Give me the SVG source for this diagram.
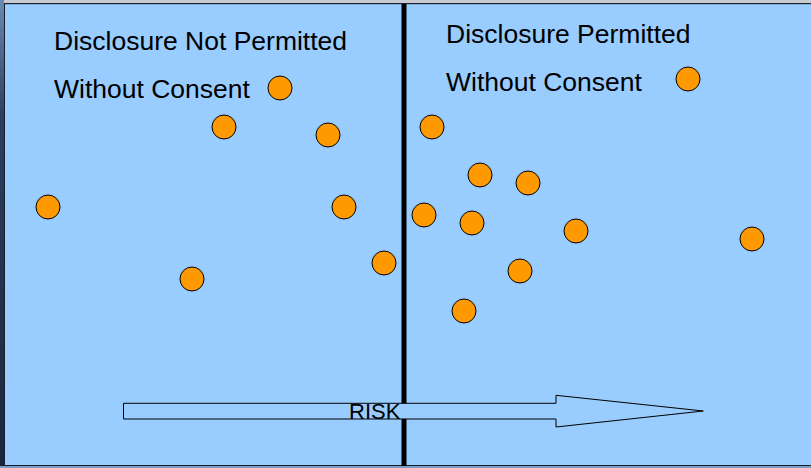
<svg xmlns="http://www.w3.org/2000/svg" width="811" height="468" viewBox="0 0 811 468">
<defs>
<linearGradient id="leftStrip" x1="0" y1="0" x2="0" y2="1">
<stop offset="0" stop-color="#6a8ab2"/>
<stop offset="0.25" stop-color="#2c3d5e"/>
<stop offset="1" stop-color="#1a2540"/>
</linearGradient>
</defs>
<style>
.dot{fill:#FF9900;stroke:#000;stroke-width:1}
.lbl{font-family:"Liberation Sans",Arial,sans-serif;font-size:26.5px;fill:#000}
.risk{font-family:"Liberation Sans",Arial,sans-serif;font-size:22px;fill:#000}
</style>
<rect x="0" y="0" width="811" height="468" fill="#99CCFF"/>
<rect x="0" y="0" width="811" height="3" fill="#c8ccd2"/>
<rect x="0" y="3" width="811" height="1.2" fill="#1a2030"/>
<rect x="0" y="0" width="4" height="468" fill="url(#leftStrip)"/>
<rect x="4" y="3" width="1" height="463" fill="#1a2030"/>
<rect x="0" y="465" width="811" height="1.2" fill="#1a2030"/>
<rect x="0" y="466" width="811" height="2" fill="#7c9ec4"/>
<rect id="divider" x="401.5" y="4" width="5" height="462" fill="#000"/>
<g id="label-left">
<text class="lbl" x="54" y="50">Disclosure Not Permitted</text>
<text class="lbl" x="54" y="97.7">Without Consent</text>
</g>
<g id="label-right">
<text class="lbl" x="446" y="42.7">Disclosure Permitted</text>
<text class="lbl" x="446" y="90.7">Without Consent</text>
</g>
<g id="dots-left">
<circle id="d1" class="dot" cx="280" cy="88" r="12"/>
<circle id="d2" class="dot" cx="224" cy="127" r="12"/>
<circle id="d3" class="dot" cx="328" cy="135" r="12"/>
<circle id="d4" class="dot" cx="48" cy="207" r="12"/>
<circle id="d5" class="dot" cx="344" cy="207" r="12"/>
<circle id="d6" class="dot" cx="192" cy="279" r="12"/>
<circle id="d7" class="dot" cx="384" cy="263" r="12"/>
</g>
<g id="dots-right">
<circle id="d8" class="dot" cx="688" cy="79" r="12"/>
<circle id="d9" class="dot" cx="432" cy="127" r="12"/>
<circle id="d10" class="dot" cx="480" cy="175" r="12"/>
<circle id="d11" class="dot" cx="528" cy="183" r="12"/>
<circle id="d12" class="dot" cx="424" cy="215" r="12"/>
<circle id="d13" class="dot" cx="472" cy="223" r="12"/>
<circle id="d14" class="dot" cx="576" cy="231" r="12"/>
<circle id="d15" class="dot" cx="752" cy="239" r="12"/>
<circle id="d16" class="dot" cx="520" cy="271" r="12"/>
<circle id="d17" class="dot" cx="464" cy="311" r="12"/>
</g>
<g id="connectors">
<g id="risk-arrow">
<polygon points="123.5,403.3 556,403.3 556,395.3 703.3,411 556,427 556,419 123.5,419" fill="#99CCFF" stroke="#000" stroke-width="1"/>
<text class="risk" x="349" y="419">RISK</text>
</g>
</g>
</svg>
